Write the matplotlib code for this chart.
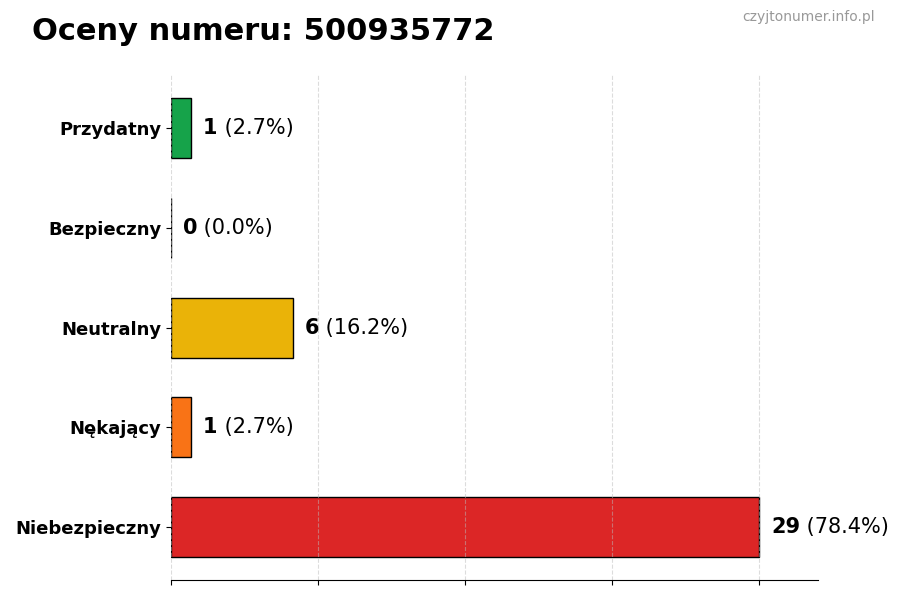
import matplotlib
matplotlib.use('Agg')
import matplotlib.pyplot as plt
import numpy as np

# Data
categories = ['Przydatny', 'Bezpieczny', 'Neutralny', 'Nękający', 'Niebezpieczny']
counts = [1, 0, 6, 1, 29]
colors = ['#16a34a', '#2563eb', '#eab308', '#f97316', '#dc2626']
number = '500935772'

total = sum(counts)
max_val = max(counts)

fig, ax = plt.subplots(figsize=(9, 6), dpi=100)
fig.subplots_adjust(left=0.19, right=0.909, top=0.875, bottom=0.033)

y = np.arange(len(categories))[::-1]
ax.barh(y, counts, height=0.6, color=colors, edgecolor='black', linewidth=1)

ax.set_yticks(y)
ax.set_yticklabels(categories, fontsize=13, fontweight='bold')
ax.set_xlim(0, max_val * 1.1)
ax.set_xticks(np.linspace(0, max_val, 5))
ax.set_xticklabels([])
ax.grid(axis='x', linestyle='--', alpha=0.5, color='#bbbbbb')

for s in ['top', 'right', 'left']:
    ax.spines[s].set_visible(False)

# Value labels: bold count followed by percentage
for yi, c in zip(y, counts):
    pct = c / total * 100
    t = ax.text(c + max_val * 0.02, yi, str(c), va='center', ha='left',
                fontsize=15, fontweight='bold')
    ax.annotate(f' ({pct:.1f}%)', xy=(1, 0.5), xycoords=t, va='center',
                ha='left', fontsize=15)

fig.text(0.035, 0.948, f'Oceny numeru: {number}', fontsize=22,
         fontweight='bold', va='center', ha='left')
fig.text(0.972, 0.971, 'czyjtonumer.info.pl', fontsize=10, color='#999999',
         va='center', ha='right')

plt.savefig('out.png', dpi=100)
